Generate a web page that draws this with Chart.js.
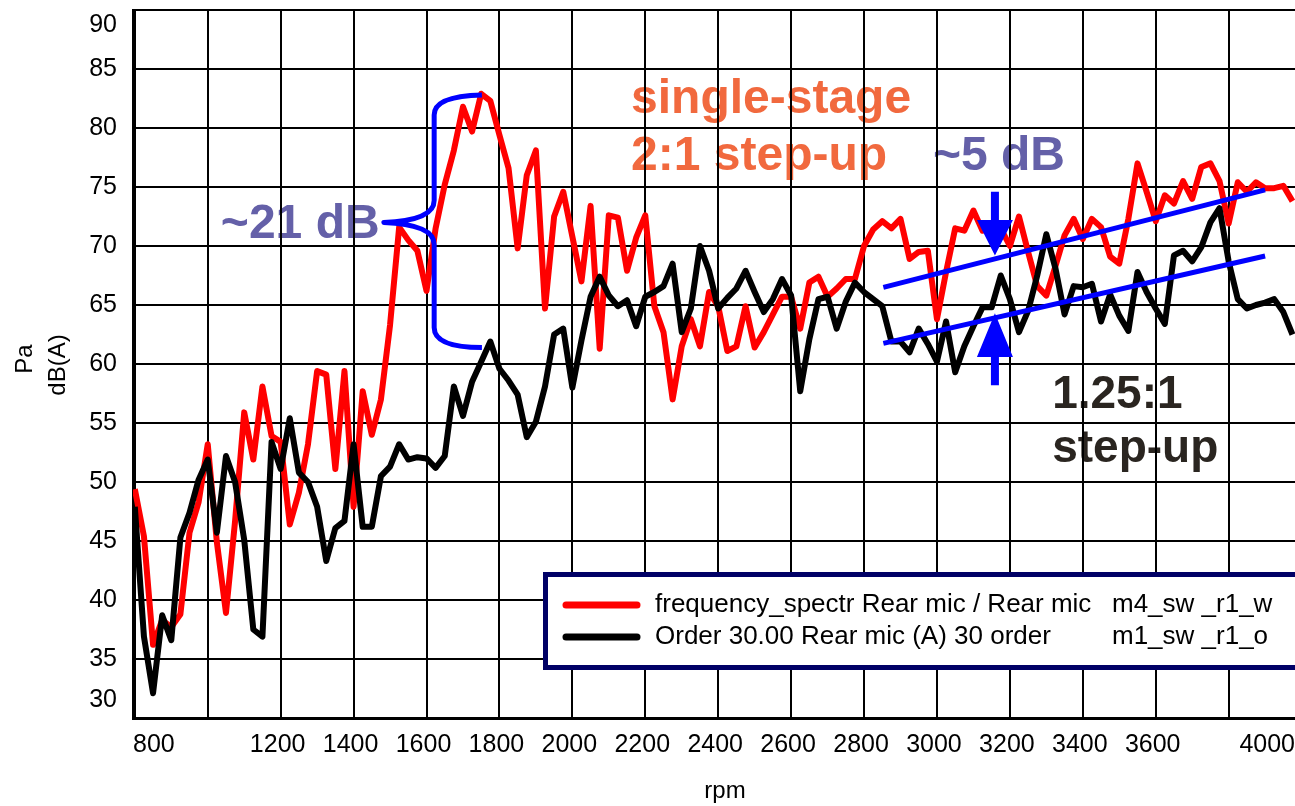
<!DOCTYPE html>
<html><head><meta charset="utf-8">
<script src="https://cdn.jsdelivr.net/npm/chart.js@4.4.1/dist/chart.umd.min.js"></script>
<style>html,body{margin:0;padding:0;background:#fff;overflow:hidden}#wrap{width:1295px;height:806px;position:relative}</style>
</head><body><div id="wrap"><canvas id="c" width="1295" height="806"></canvas></div>
<script>
// ---- data ----
const rpm = [
  800,825,850,875,900,925,950,975,
  1000,1025,1050,1075,1100,1125,1150,1175,
  1200,1225,1250,1275,1300,1325,1350,1375,
  1400,1425,1450,1475,1500,1525,1550,1575,
  1600,1625,1650,1675,1700,1725,1750,1775,
  1800,1825,1850,1875,1900,1925,1950,1975,
  2000,2025,2050,2075,2100,2125,2150,2175,
  2200,2225,2250,2275,2300,2325,2350,2375,
  2400,2425,2450,2475,2500,2525,2550,2575,
  2600,2625,2650,2675,2700,2725,2750,2775,
  2800,2825,2850,2875,2900,2925,2950,2975,
  3000,3025,3050,3075,3100,3125,3150,3175,
  3200,3225,3250,3275,3300,3325,3350,3375,
  3400,3425,3450,3475,3500,3525,3550,3575,
  3600,3625,3650,3675,3700,3725,3750,3775,
  3800,3825,3850,3875,3900,3925,3950,3975
];
const frequencySpectrum = [
  49.4,45.4,36.2,38.3,37.7,38.8,45.7,48.3,
  53.2,44.9,38.9,46.7,55.9,51.9,58.1,53.9,
  53.4,46.4,49.1,53.2,59.4,59.1,51.1,59.4,
  47.9,57.7,54.0,57.0,63.3,71.6,70.5,69.6,
  66.2,71.5,75.2,78.1,81.8,79.7,82.9,82.3,
  79.4,76.6,69.8,76.0,78.1,64.7,72.5,74.6,
  70.8,67.0,73.4,61.3,72.6,72.4,67.9,70.7,
  72.6,64.9,62.7,57.0,61.5,63.8,61.5,66.1,
  64.9,61.1,61.5,64.9,61.4,62.7,64.2,65.7,
  65.7,63.0,66.9,67.4,65.7,66.4,67.2,67.2,
  70.0,71.4,72.1,71.5,72.3,68.9,69.5,69.6,
  63.8,67.8,71.5,71.3,73.0,71.3,71.8,71.5,
  70.0,72.5,69.5,66.6,65.8,68.3,70.9,72.3,
  70.6,72.3,71.6,69.1,68.5,72.3,77.0,74.6,
  72.1,74.3,73.6,75.5,74.0,76.7,77.0,75.5,
  71.9,75.4,74.6,75.4,74.9,74.9,75.1,73.8
];
const order30 = [
  47.9,36.9,32.1,38.7,36.6,45.3,47.4,50.2,
  51.9,45.7,52.2,50.0,45.1,37.5,36.9,53.4,
  51.1,55.4,50.8,50.0,47.9,43.3,46.1,46.7,
  53.2,46.2,46.2,50.5,51.3,53.2,51.9,52.1,
  52.0,51.2,52.2,58.1,55.6,58.5,60.2,61.9,
  59.6,58.6,57.4,53.8,55.1,58.1,62.5,63.0,
  58.0,62.0,65.7,67.4,65.8,64.9,65.4,63.2,
  65.7,66.1,66.6,68.5,62.7,64.7,70.0,67.9,
  64.7,65.6,66.4,67.9,66.1,64.4,65.5,67.2,
  65.8,57.7,62.1,65.5,65.7,63.0,65.3,66.9,
  66.1,65.5,64.9,61.9,61.9,61.0,63.0,61.7,
  60.2,63.6,59.3,61.5,63.2,64.8,64.8,67.5,
  65.5,62.7,64.5,67.5,71.0,68.1,64.2,66.6,
  66.5,66.8,63.6,65.9,64.1,62.8,67.8,66.1,
  64.7,63.4,69.2,69.6,68.7,69.9,72.0,73.2,
  68.7,65.5,64.7,65.0,65.2,65.5,64.4,62.5
];
const trendRpm = [2853, 3900];
const trendUpper = [66.5, 74.75];
const trendLower = [61.75, 69.15];

const xTickValues = [800,1000,1200,1400,1600,1800,2000,2200,2400,2600,2800,3000,3200,3400,3600,3800,4000];
const xTickLabels = ['800','','1200','1400','1600','1800','2000','2200','2400','2600','2800','3000','3200','3400','3600','','4000'];
const yTickValues = [30,35,40,45,50,55,60,65,70,75,80,85,90];
const yTickLabels = ['30','35','40','45','50','55','60','65','70','75','80','85','90'];

const seriesLabels = ['frequency_spectr Rear mic / Rear mic', 'Order 30.00 Rear mic (A) 30 order'];
const seriesTags = ['m4_sw _r1_w', 'm1_sw _r1_o'];

// ---- annotation settings (data units) ----
const FONT = '"Liberation Sans", Arial, Helvetica, sans-serif';
const notes = [
  {lines:['single-stage','2:1 step-up'], x:2161, y:81.27, lh:57, size:48, color:'#f1693e'},
  {lines:['~5 dB'], x:2989, y:76.44, lh:0, size:48, color:'#6460a8'},
  {lines:['~21 dB'], x:1036, y:70.68, lh:0, size:48, color:'#6460a8'},
  {lines:['1.25:1','step-up'], x:3316, y:56.27, lh:54, size:46, color:'#2a2520'}
];
const brace = {tip:1483, spine:1621, end:1752, top:82.8, mid:72.0, bottom:61.4};
const arrows = [
  {x:3159, tail:74.6, base:72.2, tip:69.2},
  {x:3159, tail:58.2, base:60.6, tip:64.3}
];

const pts = (xs, ys) => xs.map((x, i) => ({x: x, y: ys[i]}));

const annot = {
  id: 'annot',
  beforeDraw(chart) {
    const c = chart.ctx, xs = chart.scales.x, ys = chart.scales.y;
    c.save();
    c.fillStyle = '#fff';
    c.fillRect(0, 0, chart.width, chart.height);
    c.textAlign = 'left'; c.textBaseline = 'alphabetic';
    notes.forEach(n => {
      c.font = 'bold ' + n.size + 'px ' + FONT;
      c.fillStyle = n.color;
      const x = xs.getPixelForValue(n.x), y = ys.getPixelForValue(n.y);
      n.lines.forEach((ln, k) => c.fillText(ln, x, y + k * n.lh));
    });
    c.restore();
  },
  afterDatasetsDraw(chart) {
    const c = chart.ctx, xs = chart.scales.x, ys = chart.scales.y;
    c.save();
    // brace
    const tx = xs.getPixelForValue(brace.tip), sx = xs.getPixelForValue(brace.spine), ex = xs.getPixelForValue(brace.end);
    const ty = ys.getPixelForValue(brace.top), my = ys.getPixelForValue(brace.mid), by = ys.getPixelForValue(brace.bottom);
    c.beginPath();
    c.moveTo(ex, ty);
    c.quadraticCurveTo(sx, ty + 1, sx, ty + 20);
    c.lineTo(sx, my - 22);
    c.quadraticCurveTo(sx, my - 2, tx, my);
    c.quadraticCurveTo(sx, my + 2, sx, my + 22);
    c.lineTo(sx, by - 20);
    c.quadraticCurveTo(sx, by, ex, by);
    c.strokeStyle = '#0000ff'; c.lineWidth = 5; c.lineJoin = 'round'; c.lineCap = 'butt';
    c.stroke();
    // arrows
    c.fillStyle = '#0000ff';
    arrows.forEach(a => {
      const x = xs.getPixelForValue(a.x), yT = ys.getPixelForValue(a.tail), yB = ys.getPixelForValue(a.base), yP = ys.getPixelForValue(a.tip);
      c.beginPath();
      c.moveTo(x - 4, yT); c.lineTo(x + 4, yT); c.lineTo(x + 4, yB); c.lineTo(x + 18, yB);
      c.lineTo(x, yP); c.lineTo(x - 18, yB); c.lineTo(x - 4, yB); c.closePath();
      c.fill();
    });
    c.restore();
  },
  afterDraw(chart) {
    const c = chart.ctx, xs = chart.scales.x, ys = chart.scales.y, ca = chart.chartArea;
    c.save();
    c.fillStyle = '#000';
    c.font = '25px ' + FONT;
    // y tick labels
    c.textAlign = 'right'; c.textBaseline = 'middle';
    yTickValues.forEach((v, i) => {
      let y = ys.getPixelForValue(v);
      y = Math.min(Math.max(y, ca.top + 15), ca.bottom - 18);
      c.fillText(yTickLabels[i], 117, y);
    });
    // x tick labels
    c.textAlign = 'left';
    xTickValues.forEach((v, i) => {
      const lab = xTickLabels[i];
      if (!lab) return;
      const w = c.measureText(lab).width;
      let x = xs.getPixelForValue(v) - 3 - w / 2;
      x = Math.max(x, ca.left);
      x = Math.min(x, chart.width - w);
      c.fillText(lab, x, 745);
    });
    // axis titles
    c.font = '24px ' + FONT;
    c.textAlign = 'center';
    c.fillText('rpm', 725, 791);
    c.save(); c.translate(25, 359); c.rotate(-Math.PI / 2); c.fillText('Pa', 0, 0); c.restore();
    c.save(); c.translate(58, 365); c.rotate(-Math.PI / 2); c.fillText('dB(A)', 0, 0); c.restore();
    // legend
    c.fillStyle = '#fff';
    c.fillRect(545, 574, 760, 93);
    c.strokeStyle = '#000066'; c.lineWidth = 5;
    c.strokeRect(545.5, 574.5, 780, 93);
    const legendColors = ['#ff0000', '#000000'];
    c.font = '26px ' + FONT; c.textAlign = 'left'; c.textBaseline = 'middle';
    seriesLabels.forEach((lab, i) => {
      const y = 605 + i * 32;
      c.beginPath(); c.moveTo(566, y); c.lineTo(637, y);
      c.strokeStyle = legendColors[i]; c.lineWidth = 7; c.lineCap = 'round'; c.stroke();
      c.fillStyle = '#000';
      c.fillText(lab, 655, y);
      c.fillText(seriesTags[i], 1112, y);
    });
    c.restore();
  }
};

const gridOpts = {color: '#000', lineWidth: 2, drawTicks: false};
new Chart(document.getElementById('c'), {
  type: 'line',
  data: {
    datasets: [
      {label: 'trend upper', data: pts(trendRpm, trendUpper), borderColor: '#0000ff', borderWidth: 5, pointRadius: 0, borderCapStyle: 'butt'},
      {label: 'trend lower', data: pts(trendRpm, trendLower), borderColor: '#0000ff', borderWidth: 5, pointRadius: 0, borderCapStyle: 'butt'},
      {label: seriesLabels[1], data: pts(rpm, order30), borderColor: '#000000', borderWidth: 6, pointRadius: 0, borderJoinStyle: 'round', tension: 0},
      {label: seriesLabels[0], data: pts(rpm, frequencySpectrum), borderColor: '#ff0000', borderWidth: 6, pointRadius: 0, borderJoinStyle: 'round', tension: 0}
    ]
  },
  options: {
    responsive: false,
    animation: false,
    devicePixelRatio: 1,
    layout: {padding: {top: 10, right: 0, left: 0, bottom: 0}},
    plugins: {legend: {display: false}, tooltip: {enabled: false}},
    scales: {
      x: {
        type: 'linear', min: 795, max: 3982,
        afterBuildTicks: s => { s.ticks = xTickValues.filter(v => v >= s.min && v <= s.max).map(v => ({value: v})); },
        afterFit: s => { s.height = 88; },
        ticks: {display: false},
        grid: gridOpts,
        border: {color: '#000', width: 3}
      },
      y: {
        type: 'linear', min: 30, max: 90,
        afterBuildTicks: s => { s.ticks = yTickValues.map(v => ({value: v})); },
        afterFit: s => { s.width = 133; },
        ticks: {display: false},
        grid: gridOpts,
        border: {color: '#000', width: 3}
      }
    }
  },
  plugins: [annot]
});
</script>
</body></html>
